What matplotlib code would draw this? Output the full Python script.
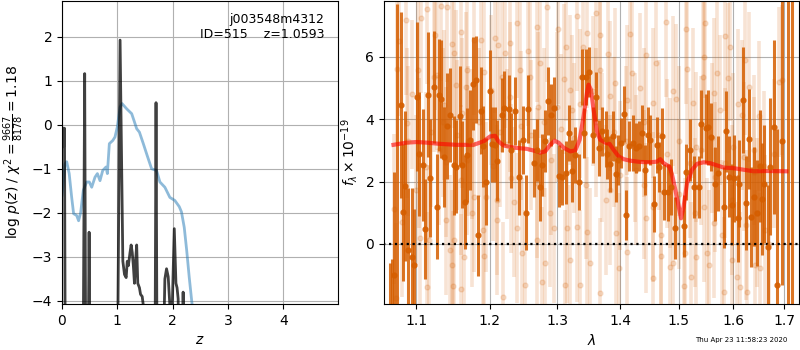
import matplotlib
matplotlib.use('Agg')
import matplotlib.pyplot as plt
from matplotlib.ticker import FixedLocator, NullLocator, FixedFormatter

# ---- left panel: p(z) and chi2 curves ----
pz_z = [0.0, 0.01, 0.03, 0.045, 0.06,
        0.38, 0.41, 0.43,
        0.47, 0.49, 0.51,
        1.00, 1.05, 1.10, 1.13, 1.16, 1.18, 1.20, 1.23, 1.25, 1.27, 1.29, 1.31,
        1.33, 1.35, 1.37, 1.40, 1.42, 1.45, 1.47, 1.49,
        1.68, 1.70, 1.72,
        1.82, 1.86, 1.89, 1.92, 1.95, 1.99, 2.03, 2.06, 2.08, 2.10, 2.12,
        2.17, 2.19, 2.21, 5.0]
pz_logp = [-0.1, -0.07, -0.5, -0.08, -6,
           -6, 1.16, -6,
           -6, -2.44, -6,
           -6, 1.92, -3.1, -3.4, -3.47, -3.1, -3.2, -2.9, -2.73, -2.9, -3.2, -3.6,
           -3.1, -2.73, -3.6, -3.7, -3.85, -3.9, -4.1, -6,
           -6, 0.5, -6,
           -6, -3.5, -3.27, -3.45, -4.1, -4.3, -2.36, -3.6, -3.7, -3.95, -6,
           -6, -3.8, -6, -6]

chi_z = [0.0, 0.024, 0.054, 0.085, 0.13, 0.175, 0.21, 0.265, 0.30, 0.338, 0.385,
         0.446, 0.494, 0.537, 0.597, 0.64, 0.687, 0.736, 0.796, 0.82, 0.856, 0.917,
         0.958, 1.0, 1.05, 1.085, 1.17, 1.26, 1.30, 1.35, 1.40, 1.47, 1.54, 1.62,
         1.71, 1.77, 1.86, 1.95, 2.04, 2.12, 2.16, 2.21, 2.255, 2.30, 2.35, 2.40]
chi_val = [-1.6, -1.27, -0.89, -0.84, -1.11, -1.65, -2.02, -2.06, -2.18, -1.99, -1.49,
           -1.30, -1.30, -1.42, -1.19, -1.11, -1.27, -1.04, -0.96, -1.11, -0.43, -0.36,
           -0.28, -0.05, 0.40, 0.48, 0.36, 0.25, 0.10, -0.09, -0.17, -0.43, -0.70, -1.0,
           -1.04, -1.30, -1.42, -1.65, -1.72, -1.86, -1.98, -2.33, -2.86, -3.46, -4.06, -4.7]

# ---- right panel: spectrum ----
dark_lam = [1.066, 1.069, 1.072, 1.075,
            1.080, 1.083, 1.086, 1.090, 1.094, 1.097, 1.101, 1.104, 1.109, 1.112,
            1.115, 1.118, 1.123, 1.127, 1.130, 1.133, 1.137, 1.141, 1.145, 1.150,
            1.153, 1.158, 1.161, 1.165, 1.168, 1.172, 1.176, 1.180, 1.184, 1.188,
            1.191, 1.195, 1.200, 1.203, 1.207, 1.211, 1.217, 1.221, 1.227, 1.231,
            1.236, 1.242, 1.248, 1.252, 1.256, 1.264, 1.269, 1.273, 1.277, 1.281,
            1.285, 1.290, 1.295, 1.302, 1.307, 1.313, 1.318, 1.323, 1.328, 1.333,
            1.338, 1.341, 1.345, 1.350, 1.355, 1.360, 1.365, 1.370, 1.376, 1.379,
            1.384, 1.388, 1.393, 1.397, 1.402, 1.406, 1.409, 1.415, 1.422, 1.427,
            1.432, 1.436, 1.442, 1.447, 1.451, 1.457, 1.462, 1.466, 1.471, 1.475,
            1.481, 1.487, 1.494, 1.510, 1.514, 1.520, 1.527, 1.536, 1.540, 1.550,
            1.554, 1.559, 1.566, 1.572, 1.582, 1.587, 1.592, 1.597, 1.602, 1.609,
            1.612, 1.618, 1.624, 1.630, 1.635, 1.640, 1.645, 1.651, 1.656, 1.660,
            1.667, 1.672, 1.679, 1.685, 1.695, 1.708, 1.716]
dark_flux = [-2.6, -2.5, -1.0, -3.0,
             4.46, 1.02, 1.86, -0.21, -0.41, -0.67, 4.73, 2.89, 2.52, 0.47,
             4.79, 2.11, 5.03, 1.20, 4.79, 4.65, 2.80, 3.77, 4.14, 2.52,
             2.48, 4.11, 2.54, 1.35, 2.86, 3.34, 5.14, 5.27, 0.27, 4.27,
             3.13, 2.00, 4.91, 3.20, 3.18, 2.67, 4.14, 4.36, 4.33, 3.00,
             4.27, 2.14, 3.34, 1.00, 4.33, 2.59, 3.02, 1.82, 2.54, 3.31,
             4.59, 4.14, 4.36, 2.19, 2.16, 2.29, 3.55, 2.34, 2.85, 2.00,
             5.37, 3.55, 5.35, 5.51, 3.50, 4.73, 3.07, 3.61, 3.36, 2.89,
             2.57, 3.45, 2.25, 2.68, 3.23, 4.18, 0.93, 3.13, 3.23, 3.07,
             3.13, 3.55, 2.38, 3.50, 3.34, 1.28, 3.16, 2.48, 3.45, 1.68,
             1.65, 1.82, 0.50, 0.58, 2.30, 3.02, 1.82, 1.82, 3.85, 3.71,
             3.74, 3.43, 1.92, 2.27, 1.18, 3.61, 2.16, 1.25, 2.11, 0.82,
             1.93, 4.63, 1.31, 3.36, 0.86, 1.52, 0.98, 2.51, 1.43, 1.93,
             -0.11, 2.48, 3.75, -1.32, 3.29, 9.0, 9.0]
dark_err = [2.0, 2.0, 3.3, 10.7,
            3.0, 2.2, 2.4, 2.0, 2.2, 1.8, 2.4, 2.0, 1.8, 1.6,
            2.0, 1.9, 1.8, 1.7, 1.8, 1.9, 1.6, 1.7, 1.5, 1.6,
            1.5, 1.6, 1.4, 1.5, 1.5, 1.6, 1.5, 1.4, 1.3, 1.4,
            1.3, 1.4, 1.3, 1.2, 1.2, 1.3, 1.2, 1.2, 1.1, 1.2,
            1.1, 1.2, 1.1, 1.2, 1.1, 1.1, 1.0, 1.1, 1.0, 1.0,
            1.1, 1.0, 1.0, 1.0, 0.9, 1.0, 0.9, 1.0, 0.9, 0.9,
            0.9, 0.8, 0.9, 0.8, 0.9, 0.8, 0.9, 0.8, 0.9, 0.8,
            0.9, 0.8, 0.9, 0.8, 0.8, 0.9, 0.8, 0.8, 0.9, 0.8,
            0.8, 0.9, 0.8, 0.9, 0.8, 0.9, 0.9, 0.8, 0.9, 0.9,
            0.9, 0.9, 1.0, 1.0, 0.9, 1.0, 1.0, 1.0, 1.1, 1.1,
            1.2, 1.1, 1.2, 1.2, 1.3, 1.3, 1.3, 1.3, 1.4, 1.4,
            1.4, 1.7, 1.5, 1.6, 1.6, 1.6, 1.7, 1.8, 1.8, 1.9,
            2.0, 2.2, 2.8, 5.0, 4.6, 11.0, 11.0]

light_lam = [1.0868, 1.1065, 1.1144, 1.1326, 1.1411, 1.1474, 1.1505, 1.1026, 1.1277,
             1.1528, 1.1667, 1.1616, 1.1370, 1.0884, 1.1039, 1.1304, 1.1393, 1.1685,
             1.0718, 1.0820, 1.0996, 1.1171, 1.1393, 1.1505, 1.1643, 1.1754, 1.1907,
             1.1478, 1.1144, 1.1492, 1.1602, 1.0740, 1.1921, 1.1875, 1.1782, 1.1921,
             1.2016, 1.1685, 1.1598, 1.1782, 1.1127, 1.1237,
             1.2077, 1.2120, 1.2294, 1.2392, 1.2843, 1.3012, 1.2688, 1.3136, 1.2221,
             1.2440, 1.2588, 1.2738, 1.3198, 1.3403, 1.3461, 1.2173, 1.2294, 1.2992,
             1.3225, 1.2101, 1.2342, 1.2688, 1.2889, 1.3146, 1.3303, 1.3461, 1.2101,
             1.2392, 1.2465, 1.2688, 1.2813, 1.2514, 1.2764, 1.2188, 1.3121, 1.3344,
             1.3198, 1.3514,
             1.3664, 1.4157, 1.4774, 1.5127, 1.4440, 1.3664, 1.3908, 1.4326, 1.4554,
             1.4950, 1.5259, 1.5441, 1.3826, 1.4113, 1.3772, 1.3936, 1.4113, 1.4440,
             1.4554, 1.4698, 1.4903, 1.5109, 1.5319, 1.3979, 1.4554, 1.4844, 1.5091,
             1.5229, 1.3664, 1.3826, 1.4271, 1.4844, 1.5319,
             1.5483, 1.5854, 1.5935, 1.6233, 1.5905, 1.6297, 1.6954, 1.5636, 1.5761,
             1.6170, 1.6395, 1.5453, 1.5636, 1.5980, 1.6460, 1.5515, 1.5545, 1.5980,
             1.6138, 1.6428, 1.6075, 1.5823, 1.6265, 1.6525, 1.5668, 1.6623,
             1.090, 1.120, 1.135, 1.155, 1.170, 1.185, 1.215, 1.225, 1.245, 1.260,
             1.280, 1.290, 1.305, 1.325, 1.335, 1.355, 1.360, 1.370, 1.390, 1.410,
             1.425, 1.440, 1.465, 1.480, 1.500, 1.520, 1.540, 1.560, 1.585, 1.600,
             1.620, 1.640, 1.660, 1.680,
             1.075, 1.078, 1.095, 1.105, 1.125, 1.145, 1.160, 1.175, 1.195, 1.205,
             1.230, 1.255, 1.270, 1.295, 1.310, 1.330, 1.345, 1.360, 1.380, 1.400,
             1.420, 1.440, 1.460, 1.470, 1.490, 1.500, 1.515, 1.530, 1.545, 1.570,
             1.580, 1.610, 1.625, 1.650, 1.670, 1.690]
light_flux = [7.19, 7.25, 7.54, 7.64, 7.6, 6.42, 6.13, 5.59, 5.42,
              5.1, 5.04, 4.2, 4.46, 3.88, 2.92, 3.02, 2.63, 2.7,
              1.12, 0.71, 1.73, 0.13, 0.77, 0.13, -0.42, 1.0, 0.45,
              -0.67, -1.38, -1.35, -1.44, -1.73, -0.39, 6.55, 6.55, 5.52,
              4.94, 5.59, 2.05, 1.51, 2.47, 5.36,
              6.6, 6.39, 6.45, 7.09, 7.6, 6.9, 6.97, 6.33, 6.13,
              5.59, 5.36, 5.81, 4.94, 6.33, 6.77, 5.36, 4.72, 4.4,
              4.3, 1.41, 1.35, 1.96, 1.0, 0.51, 0.55, 0.39, 0.77,
              0.51, -0.29, 0.13, -0.61, -1.32, -1.22, -1.7, -1.32, -1.32,
              -0.51, -0.61,
              6.71, 6.74, 7.13, 6.9, 6.07, 5.59, 5.17, 5.0, 4.53,
              4.65, 4.53, 5.36, 4.75, 4.62, 1.41, 0.35, -0.26, 0.83,
              1.19, 0.29, -0.61, -0.29, -0.42, -0.77, -1.09, -0.74, -1.35,
              -1.06, -1.57, 1.73, 2.38, 2.28, 3.11,
              7.09, 6.68, 6.33, 5.91, 5.33, 5.04, 5.26, 4.85, 4.3,
              4.14, 3.02, 1.19, 0.67, 1.41, 1.0, -0.29, -0.67, -0.51,
              -1.38, -0.67, -1.06, -1.54, -1.54, -0.77, 2.15, 0.45,
              3.3, 3.6, 3.9, 3.5, 3.3, 3.9, 3.6, 3.2, 3.8, 3.5,
              3.9, 2.7, 3.7, 3.4, 4.5, 4.9, 3.9, 3.1, 3.6, 3.3,
              3.1, 3.9, 3.5, 2.9, 3.3, 2.6, 3.0, 3.4, 2.6, 3.1,
              2.8, 2.3, 2.5, 2.9,
              5.6, 6.5, 4.8, 0.2, 6.7, -0.2, 6.8, 3.2, 1.5, 2.5,
              2.1, 6.2, 4.4, 0.5, 5.3, 7.3, 1.9, 7.4, 6.1, 2.2,
              5.5, 1.9, 5.8, -0.4, 4.9, 1.6, 5.6, 1.0, 6.0, 5.5,
              0.3, 4.5, 0.6, 4.1, 0.0, 5.2]
light_err = 2.4

model_lam = [1.0709, 1.0880, 1.1009, 1.1140, 1.1317, 1.1542, 1.1772, 1.1912, 1.2006,
             1.2077, 1.2124, 1.2197, 1.2343, 1.2539, 1.2688, 1.2738, 1.2813, 1.2889,
             1.2955, 1.3017, 1.3094, 1.3198, 1.3277, 1.3345, 1.3408, 1.3461, 1.3487,
             1.3525, 1.3567, 1.3621, 1.3675, 1.3756, 1.3826, 1.3892, 1.3974, 1.4058,
             1.4169, 1.4338, 1.4508, 1.4623, 1.4681, 1.4739, 1.4839, 1.4886, 1.4944,
             1.5003, 1.5045, 1.5091, 1.5152, 1.5241, 1.5332, 1.5453, 1.5575, 1.5699,
             1.5823, 1.6014, 1.6202, 1.6395, 1.6656, 1.7040]
model_flux = [3.18, 3.25, 3.27, 3.25, 3.21, 3.18, 3.18, 3.29, 3.45,
              3.47, 3.29, 3.16, 3.09, 3.05, 2.97, 2.93, 2.97, 3.18,
              3.31, 3.25, 3.09, 2.97, 3.0, 3.34, 4.09, 4.84, 5.11,
              4.95, 4.30, 3.61, 3.34, 3.25, 3.21, 3.02, 2.81, 2.72,
              2.67, 2.63, 2.62, 2.64, 2.72, 2.59, 2.48, 2.22, 1.73,
              1.20, 0.82, 1.2, 1.95, 2.38, 2.57, 2.62, 2.59, 2.52,
              2.45, 2.43, 2.38, 2.33, 2.34, 2.33]

lam_ticks = [1.1, 1.2, 1.3, 1.4, 1.5, 1.6, 1.7]

orange = '#D55E00'

fig = plt.figure(figsize=(8, 3.5), dpi=100)
ax1 = fig.add_axes([0.0775, 0.1314, 0.345, 0.866])
ax2 = fig.add_axes([0.48, 0.1314, 0.519, 0.866])

ax1.plot(chi_z, chi_val, color='#1f77b4', alpha=0.5, lw=2)
ax1.plot(pz_z, pz_logp, color='k', alpha=0.75, lw=2)
ax1.set_xlim(0, 4.99)
ax1.set_ylim(-4.07, 2.81)
ax1.set_yticks([-4, -3, -2, -1, 0, 1, 2])
ax1.set_xticks([0, 1, 2, 3, 4])
ax1.grid(True)
ax1.set_xlabel('$z$')
ax1.set_ylabel(r'log $p(z)$ / $\chi^2=\frac{9667}{8178}=1.18$')
ax1.text(0.95, 0.96, 'j003548m4312\nID=515    z=1.0593', transform=ax1.transAxes,
         ha='right', va='top', fontsize=9)

ax2.errorbar(light_lam, light_flux, yerr=light_err, fmt='o', color=orange,
             alpha=0.17, ms=3.5, elinewidth=2.6, capsize=0)
ax2.errorbar(dark_lam, dark_flux, yerr=dark_err, fmt='o', color=orange,
             alpha=0.85, ms=3.5, elinewidth=2.2, capsize=0)
ax2.plot(model_lam, model_flux, color='r', alpha=0.6, lw=3)
ax2.plot([1.0, 1.8], [0, 0], color='k', linestyle=':', lw=1.6)

ax2.set_xscale('log')
ax2.set_xlim(1.059, 1.730)
ax2.set_ylim(-1.93, 7.8)
ax2.xaxis.set_major_locator(FixedLocator(lam_ticks))
ax2.xaxis.set_major_formatter(FixedFormatter([str(t) for t in lam_ticks]))
ax2.xaxis.set_minor_locator(NullLocator())
ax2.set_yticks([0, 2, 4, 6])
ax2.grid(True)
ax2.set_xlabel(r'$\lambda$')
ax2.set_ylabel(r'$f_\lambda\times10^{-19}$')

fig.text(0.984, 0.02, 'Thu Apr 23 11:58:23 2020', ha='right', va='bottom', fontsize=5)

fig.savefig('out.png', dpi=100)
